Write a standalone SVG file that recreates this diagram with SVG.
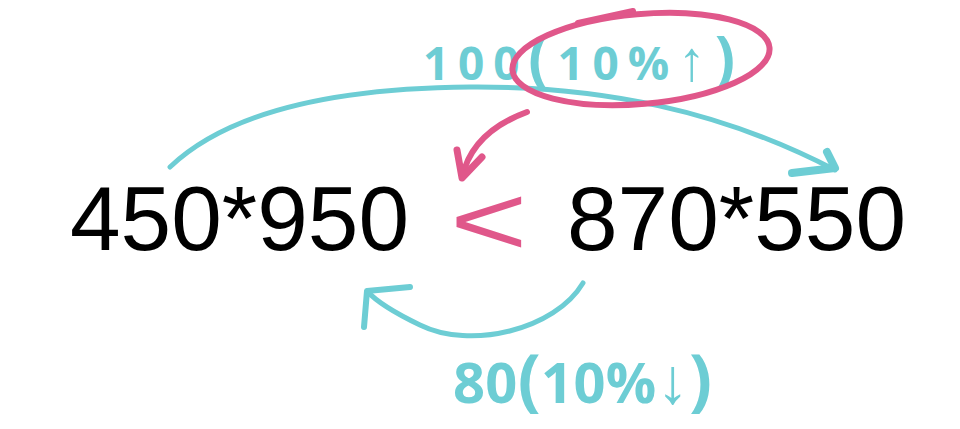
<svg xmlns="http://www.w3.org/2000/svg" width="960" height="429" viewBox="0 0 960 429">
<style>
.teal{fill:none;stroke:#6dcdd4;stroke-linecap:round;stroke-linejoin:round}
.pink{fill:none;stroke:#e0578a;stroke-linecap:round;stroke-linejoin:round}
.num{font-family:"Liberation Sans",Arial,sans-serif;font-size:91px;fill:#000}
.hand{font-family:"Open Sans","Liberation Sans",sans-serif;font-weight:700;fill:#6dcdd4}
</style>
<rect width="960" height="429" fill="#fff"/>
<g id="connectors">
  <path class="teal" stroke-width="5" d="M170,167 C230,110 340,88 470,87 C600,86 720,110 835,170"/>
  <path class="teal" stroke-width="8" d="M827,152 L835,168 L792,173"/>
  <path class="pink" stroke-width="6" d="M527,112 C500,122 470,140 462,178"/>
  <path class="pink" stroke-width="7" d="M457,150 L462,178 L482,157"/>
  <path class="teal" stroke-width="5" d="M583,283 C555,330 470,350 420,325 C395,313 375,300 367,291"/>
  <path class="teal" stroke-width="6" d="M410,287 L367,291 L364,327"/>
</g>
<g id="left-expr"><text class="num" x="70" y="250">450*950</text></g>
<g id="right-expr"><text class="num" x="567" y="250">870*550</text></g>
<g id="compare"><text transform="translate(450,0) scale(1.33,1)" x="0" y="255.5" font-family="'Liberation Sans',Arial,sans-serif" font-size="100" fill="#e0578a">&lt;</text></g>
<g id="top-label">
  <text class="hand" x="423" y="80" font-size="46" textLength="312" lengthAdjust="spacing">100<tspan font-size="60">(</tspan>10%<tspan font-size="56">↑</tspan><tspan font-size="60">)</tspan></text>
  <g id="highlight">
    <ellipse class="pink" stroke-width="6" cx="641" cy="59" rx="129" ry="45" transform="rotate(-5 641 59)"/>
    <path class="pink" stroke-width="6" d="M578,23 L633,11"/>
  </g>
</g>
<g id="bottom-label">
  <text class="hand" x="453" y="403" font-size="56" textLength="259" lengthAdjust="spacing">80<tspan font-size="68">(</tspan>10%<tspan font-size="64">↓</tspan><tspan font-size="68">)</tspan></text>
</g>
</svg>
